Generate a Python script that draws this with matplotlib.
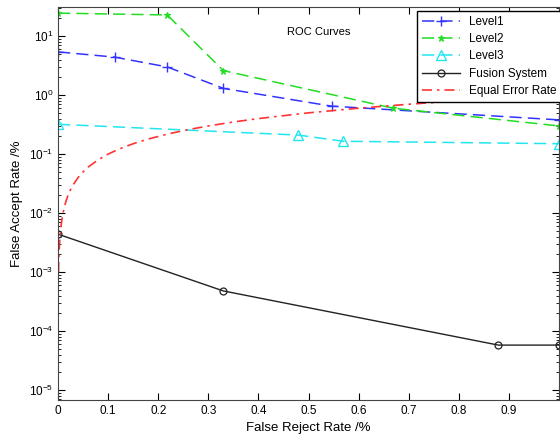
import matplotlib.pyplot as plt

plt.rcParams['font.family'] = ['Liberation Sans', 'DejaVu Sans']

# false reject rate (%) / false accept rate (%)
level1_x = [0.0, 0.113, 0.218, 0.33, 0.546, 1.0]
level1_y = [5.4, 4.4, 3.0, 1.3, 0.65, 0.38]

level2_x = [0.0, 0.218, 0.33, 0.669, 1.0]
level2_y = [24.5, 22.8, 2.6, 0.6, 0.3]

level3_x = [0.0, 0.48, 0.569, 1.0]
level3_y = [0.32, 0.21, 0.165, 0.15]

fusion_x = [0.0, 0.33, 0.879, 1.0]
fusion_y = [0.0044, 0.00048, 0.000058, 0.000058]

# equal error rate line: FAR == FRR
eer_x = [0.001, 0.0015, 0.002, 0.003, 0.004, 0.006, 0.008, 0.01, 0.013, 0.016,
         0.02, 0.025, 0.03, 0.04, 0.05, 0.06, 0.08, 0.1, 0.12, 0.15, 0.18,
         0.22, 0.26, 0.3, 0.35, 0.4, 0.5, 0.6, 0.7, 0.8, 0.9, 1.0]
eer_y = [0.001, 0.0015, 0.002, 0.003, 0.004, 0.006, 0.008, 0.01, 0.013, 0.016,
         0.02, 0.025, 0.03, 0.04, 0.05, 0.06, 0.08, 0.1, 0.12, 0.15, 0.18,
         0.22, 0.26, 0.3, 0.35, 0.4, 0.5, 0.6, 0.7, 0.8, 0.9, 1.0]

xticks = [0, 0.1, 0.2, 0.3, 0.4, 0.5, 0.6, 0.7, 0.8, 0.9]
xticklabels = ['0', '0.1', '0.2', '0.3', '0.4', '0.5', '0.6', '0.7', '0.8', '0.9']

fig = plt.figure(figsize=(5.6, 4.43), dpi=100)
ax = fig.add_axes([0.1036, 0.097, 0.8946, 0.887])

ax.semilogy(level1_x, level1_y, color='#3333ff', ls=(0, (8, 4)), lw=1.1,
            marker='+', ms=7, mew=1.0, label='Level1')
ax.semilogy(level2_x, level2_y, color='#22dd22', ls=(0, (8, 4)), lw=1.1,
            marker='*', ms=5, mew=0.8, label='Level2')
ax.semilogy(level3_x, level3_y, color='#22e5f0', ls=(0, (8, 4)), lw=1.1,
            marker='^', ms=7, mfc='none', mew=1.0, label='Level3')
ax.semilogy(fusion_x, fusion_y, color='#222222', ls='-', lw=1.0,
            marker='o', ms=5, mfc='none', mew=0.9, label='Fusion System')
ax.semilogy(eer_x, eer_y, color='#ff3333', ls=(0, (6, 3, 1.5, 3)), lw=1.2,
            label='Equal Error Rate')

ax.set_xlim(0, 1)
ax.set_ylim(6.8e-6, 31)
ax.set_xticks(xticks)
ax.set_xticklabels(xticklabels)
ax.tick_params(which='both', direction='in', top=True, right=True, labelsize=8.5)
ax.tick_params(which='major', length=5)
ax.tick_params(which='minor', length=2.5)
for s in ax.spines.values():
    s.set_color('#444444')

ax.set_xlabel('False Reject Rate /%', fontsize=9.5, labelpad=4)
ax.set_ylabel('False Accept Rate /%', fontsize=9.5, labelpad=4)
ax.text(0.52, 0.937, 'ROC Curves', transform=ax.transAxes, ha='center',
        va='center', fontsize=8)

leg = ax.legend(loc='upper right', bbox_to_anchor=(1.005, 0.99), fontsize=8.5,
                frameon=True, fancybox=False, edgecolor='black', framealpha=1,
                borderaxespad=0.0, handlelength=3.2, labelspacing=0.45)
leg.get_frame().set_linewidth(1.0)

fig.savefig('out.png', dpi=100)
